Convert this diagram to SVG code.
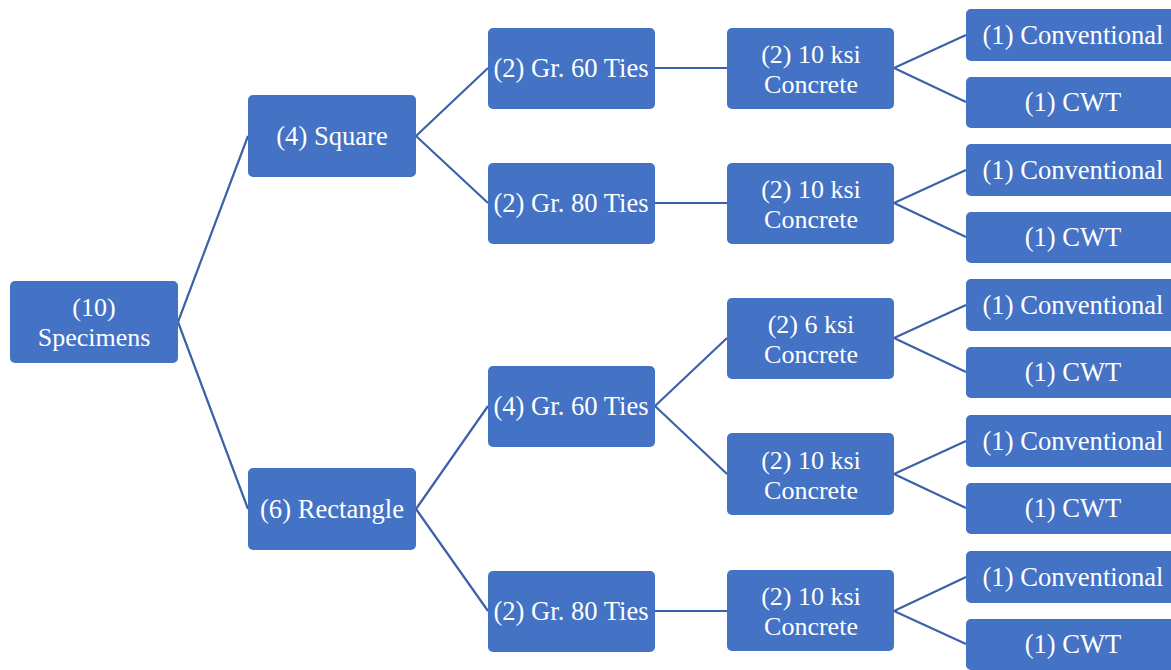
<svg xmlns="http://www.w3.org/2000/svg" width="1171" height="670" viewBox="0 0 1171 670">
<style>
.n{fill:#4472C4;}
.t{fill:#fff;font-family:"Liberation Serif","Times New Roman",serif;font-size:26.6px;text-anchor:middle;dominant-baseline:central;}
.t2{font-size:26px;}
.c{stroke:#3C61AA;stroke-width:2.2;fill:none;}
</style>
<rect width="1171" height="670" fill="#fff"/>
<g id="connectors" class="c">
<path d="M178,322 L248,136 M178,322 L248,509"/>
<path d="M416,136 L488,68 M416,136 L488,203"/>
<path d="M416,509 L488,406 M416,509 L488,611"/>
<path d="M655,68 L727,68 M655,203 L727,203 M655,406 L727,338 M655,406 L727,474 M655,611 L727,611"/>
<path d="M894,68 L966,35 M894,68 L966,102"/>
<path d="M894,203 L966,170 M894,203 L966,237"/>
<path d="M894,338 L966,305 M894,338 L966,372"/>
<path d="M894,474 L966,441 M894,474 L966,508"/>
<path d="M894,611 L966,577 M894,611 L966,644"/>
</g>
<g id="specimens"><rect class="n" x="10" y="281" width="168" height="82" rx="5"/><text class="t t2"><tspan x="94" y="307">(10)</tspan><tspan x="94" y="337">Specimens</tspan></text></g>
<g id="square"><rect class="n" x="248" y="95" width="168" height="82" rx="5"/><text class="t" x="332" y="136">(4) Square</text></g>
<g id="rectangle"><rect class="n" x="248" y="468" width="168" height="82" rx="5"/><text class="t" x="332" y="509">(6) Rectangle</text></g>
<g id="sq-gr60"><rect class="n" x="488" y="28" width="167" height="81" rx="5"/><text class="t" x="571" y="68">(2) Gr. 60 Ties</text></g>
<g id="sq-gr80"><rect class="n" x="488" y="163" width="167" height="81" rx="5"/><text class="t" x="571" y="203">(2) Gr. 80 Ties</text></g>
<g id="re-gr60"><rect class="n" x="488" y="366" width="167" height="81" rx="5"/><text class="t" x="571" y="406">(4) Gr. 60 Ties</text></g>
<g id="re-gr80"><rect class="n" x="488" y="571" width="167" height="81" rx="5"/><text class="t" x="571" y="611">(2) Gr. 80 Ties</text></g>
<g id="c1"><rect class="n" x="727" y="28" width="167" height="81" rx="5"/><text class="t t2"><tspan x="811" y="54">(2) 10 ksi</tspan><tspan x="811" y="84">Concrete</tspan></text></g>
<g id="c2"><rect class="n" x="727" y="163" width="167" height="81" rx="5"/><text class="t t2"><tspan x="811" y="189">(2) 10 ksi</tspan><tspan x="811" y="219">Concrete</tspan></text></g>
<g id="c3"><rect class="n" x="727" y="298" width="167" height="81" rx="5"/><text class="t t2"><tspan x="811" y="324">(2) 6 ksi</tspan><tspan x="811" y="354">Concrete</tspan></text></g>
<g id="c4"><rect class="n" x="727" y="433" width="167" height="82" rx="5"/><text class="t t2"><tspan x="811" y="460">(2) 10 ksi</tspan><tspan x="811" y="490">Concrete</tspan></text></g>
<g id="c5"><rect class="n" x="727" y="570" width="167" height="81" rx="5"/><text class="t t2"><tspan x="811" y="596">(2) 10 ksi</tspan><tspan x="811" y="626">Concrete</tspan></text></g>
<g id="l1a"><rect class="n" x="966" y="9" width="214" height="52" rx="5"/><text class="t" x="1073" y="35">(1) Conventional</text></g>
<g id="l1b"><rect class="n" x="966" y="77" width="214" height="51" rx="5"/><text class="t" x="1073" y="102">(1) CWT</text></g>
<g id="l2a"><rect class="n" x="966" y="144" width="214" height="52" rx="5"/><text class="t" x="1073" y="170">(1) Conventional</text></g>
<g id="l2b"><rect class="n" x="966" y="212" width="214" height="51" rx="5"/><text class="t" x="1073" y="237">(1) CWT</text></g>
<g id="l3a"><rect class="n" x="966" y="279" width="214" height="52" rx="5"/><text class="t" x="1073" y="305">(1) Conventional</text></g>
<g id="l3b"><rect class="n" x="966" y="347" width="214" height="51" rx="5"/><text class="t" x="1073" y="372">(1) CWT</text></g>
<g id="l4a"><rect class="n" x="966" y="415" width="214" height="52" rx="5"/><text class="t" x="1073" y="441">(1) Conventional</text></g>
<g id="l4b"><rect class="n" x="966" y="483" width="214" height="51" rx="5"/><text class="t" x="1073" y="508">(1) CWT</text></g>
<g id="l5a"><rect class="n" x="966" y="551" width="214" height="52" rx="5"/><text class="t" x="1073" y="577">(1) Conventional</text></g>
<g id="l5b"><rect class="n" x="966" y="619" width="214" height="51" rx="5"/><text class="t" x="1073" y="644">(1) CWT</text></g>
</svg>
